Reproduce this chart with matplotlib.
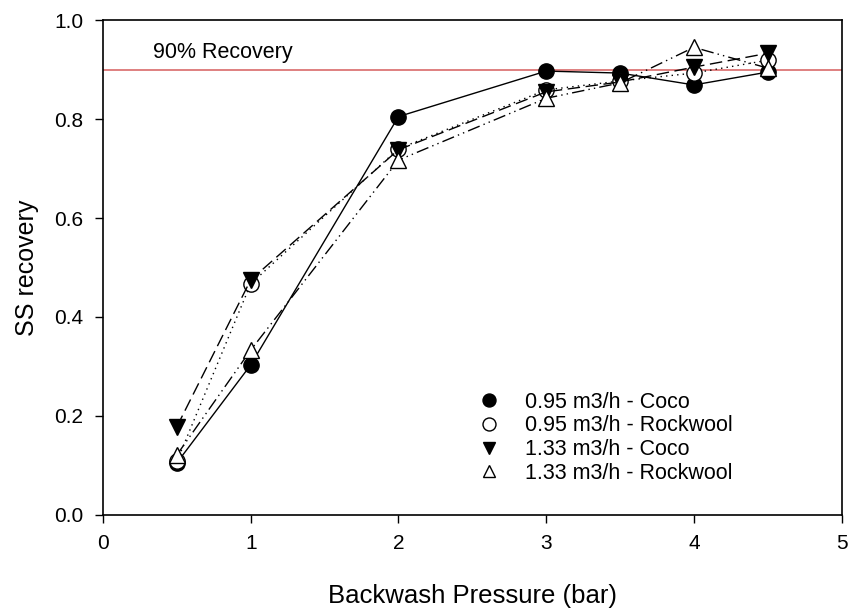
import matplotlib
matplotlib.use("Agg")
import matplotlib.pyplot as plt

pressure = [0.5, 1, 2, 3, 3.5, 4, 4.5]
coco_095 = [0.105, 0.303, 0.805, 0.897, 0.893, 0.869, 0.895]
rock_095 = [0.108, 0.467, 0.740, 0.859, 0.877, 0.893, 0.919]
coco_133 = [0.178, 0.475, 0.738, 0.855, 0.875, 0.905, 0.933]
rock_133 = [0.121, 0.333, 0.717, 0.842, 0.873, 0.945, 0.903]
labels = ["0.95 m3/h - Coco", "0.95 m3/h - Rockwool", "1.33 m3/h - Coco", "1.33 m3/h - Rockwool"]

plt.rcParams['font.family'] = ['Arial', 'Liberation Sans', 'DejaVu Sans']

fig = plt.figure(figsize=(8.51, 6.10), dpi=100)
ax = fig.add_axes([0.121, 0.156, 0.868, 0.811])

ms = 11
ax.plot(pressure, coco_095, color='black', lw=1, ls='-', marker='o', ms=ms,
        mfc='black', mec='black', label=labels[0])
ax.plot(pressure, rock_095, color='black', lw=1, ls=(0, (1, 3)), marker='o', ms=ms,
        mfc='white', mec='black', label=labels[1])
ax.plot(pressure, coco_133, color='black', lw=1, ls=(0, (9, 4)), marker='v', ms=ms,
        mfc='black', mec='black', label=labels[2])
ax.plot(pressure, rock_133, color='black', lw=1, ls=(0, (9, 3, 1, 3, 1, 3)), marker='^', ms=ms,
        mfc='white', mec='black', label=labels[3])

ax.axhline(0.9, color='#d96b6b', lw=1.2, zorder=0)
ax.text(0.34, 0.913, "90% Recovery", fontsize=15.5, ha='left', va='bottom')

ax.set_xlim(0, 5)
ax.set_ylim(0, 1.0)
ax.set_xticks([0, 1, 2, 3, 4, 5])
ax.set_yticks([0.0, 0.2, 0.4, 0.6, 0.8, 1.0])
ax.set_yticklabels(["0.0", "0.2", "0.4", "0.6", "0.8", "1.0"])
ax.tick_params(direction='out', length=6, width=1, labelsize=15, pad=8)
for s in ax.spines.values():
    s.set_linewidth(1.2)

ax.set_xlabel("Backwash Pressure (bar)", fontsize=18.5, labelpad=22)
ax.set_ylabel("SS recovery", fontsize=18, labelpad=11)

leg = ax.legend(loc='lower left', bbox_to_anchor=(0.487, 0.032), frameon=False,
                fontsize=15.5, handlelength=1.0, handletextpad=1.2, labelspacing=0.13,
                markerscale=0.85, borderpad=0.2)
for h in leg.legend_handles:
    h.set_linestyle('none')

fig.savefig("out.png", dpi=100)
